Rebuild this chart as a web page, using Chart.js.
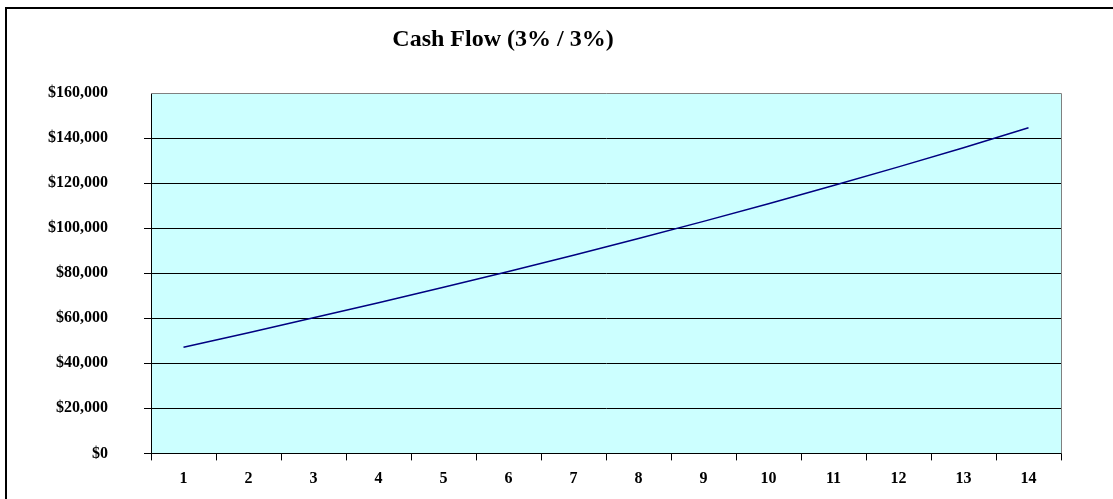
<!DOCTYPE html>
<html>
<head>
<meta charset="utf-8">
<script src="https://cdn.jsdelivr.net/npm/chart.js@4"></script>
<style>
  html, body { margin: 0; padding: 0; background: #fff; }
  canvas { display: block; }
</style>
</head>
<body>
<canvas id="cashChart" width="1113" height="499"></canvas>
<script>
// Données du graphique
const years = ["1", "2", "3", "4", "5", "6", "7", "8", "9", "10", "11", "12", "13", "14"];
const cashFlow = [47100, 53600, 60200, 66900, 73800, 80800, 88000, 95400, 103000, 110800, 118900, 127200, 135700, 144600];
const yTicks = [0, 20000, 40000, 60000, 80000, 100000, 120000, 140000, 160000];
const titleText = "Cash Flow (3% / 3%)";

const serif = "'Liberation Serif', 'Times New Roman', serif";

// fond de la zone de tracé, cadre et titre
const excelLook = {
    id: "excelLook",
    beforeDraw(chart) {
        const { ctx, chartArea: a } = chart;
        ctx.save();
        ctx.fillStyle = "#ccffff";
        ctx.fillRect(a.left, a.top, a.right - a.left, a.bottom - a.top);
        ctx.restore();
    },
    afterDraw(chart) {
        const { ctx, chartArea: a } = chart;
        ctx.save();
        // bord haut / droit de la zone de tracé
        ctx.strokeStyle = "#808080";
        ctx.lineWidth = 1;
        ctx.beginPath();
        ctx.moveTo(a.left, a.top + 0.5);
        ctx.lineTo(a.right + 0.5, a.top + 0.5);
        ctx.lineTo(a.right + 0.5, a.bottom);
        ctx.stroke();
        // cadre du graphique
        ctx.strokeStyle = "#000";
        ctx.lineWidth = 2;
        ctx.beginPath();
        ctx.moveTo(6, 499);
        ctx.lineTo(6, 8);
        ctx.lineTo(1113, 8);
        ctx.stroke();
        // titre
        ctx.fillStyle = "#000";
        ctx.font = "bold 24px " + serif;
        ctx.textAlign = "center";
        ctx.textBaseline = "middle";
        ctx.fillText(titleText, 503, 40);
        ctx.restore();
    }
};

const config = {
    type: "line",
    data: {
        labels: years,
        datasets: [{
            label: "Cash Flow",
            data: cashFlow,
            borderColor: "#000080",
            borderWidth: 1.5,
            pointRadius: 0,
            tension: 0,
            fill: false
        }]
    },
    options: {
        responsive: false,
        animation: false,
        layout: { padding: { top: 93, right: 52, left: 0, bottom: 0 } },
        plugins: {
            legend: { display: false },
            tooltip: { enabled: false }
        },
        scales: {
            x: {
                offset: true,
                grid: {
                    offset: true,
                    drawOnChartArea: false,
                    drawTicks: true,
                    tickLength: 7,
                    color: "#000"
                },
                border: { color: "#000", width: 1 },
                ticks: {
                    color: "#000",
                    font: { family: serif, size: 16, weight: "bold" },
                    padding: 9,
                    maxRotation: 0
                },
                afterFit(scale) { scale.height = 39; }
            },
            y: {
                min: 0,
                max: 160000,
                afterBuildTicks(scale) {
                    scale.ticks = yTicks.map(v => ({ value: v }));
                },
                grid: {
                    color: ctx => ctx.tick && ctx.tick.value === 160000 ? "rgba(0,0,0,0)" : "#000",
                    tickLength: 7,
                    lineWidth: 1
                },
                border: { color: "#000", width: 1 },
                ticks: {
                    color: "#000",
                    font: { family: serif, size: 16, weight: "bold" },
                    padding: 36,
                    callback: v => "$" + v.toLocaleString("en-US")
                },
                afterFit(scale) { scale.width = 151; }
            }
        }
    },
    plugins: [excelLook]
};

// Affichage du graphique
new Chart(document.getElementById("cashChart"), config);
</script>
</body>
</html>
